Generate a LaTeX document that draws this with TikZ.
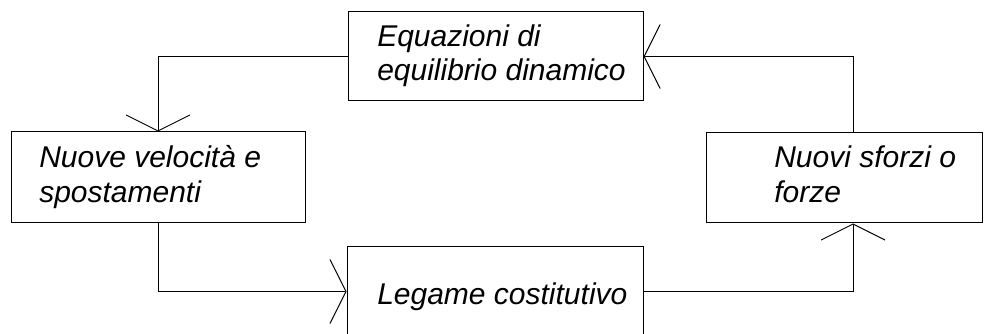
\documentclass[tikz,border=0pt]{standalone}
\usepackage{fontspec}
\setmainfont{Liberation Sans}
\usetikzlibrary{arrows.meta}
\begin{document}
\begin{tikzpicture}[x=0.75pt,y=-0.75pt,
  box/.style={draw, line width=0.75pt, rectangle, inner sep=0pt},
  lbl/.style={font=\itshape\fontsize{22.5}{27}\selectfont, anchor=base west, inner sep=0pt},
  arr/.style={line width=0.75pt, -{Straight Barb[length=12pt,width=48pt]}}]
\useasboundingbox (0,0) rectangle (988,334);
\clip (0,0) rectangle (988,334);
% boxes
\node[box, minimum width=221.25pt, minimum height=66.75pt] (eq) at (495.5,56.5) {};
\node[box, minimum width=220.5pt, minimum height=68.25pt] (nv) at (158,177.5) {};
\node[box, minimum width=207pt, minimum height=67.5pt] (ns) at (844,178) {};
\node[box, minimum width=222pt, minimum height=66.75pt] (lg) at (495,291.5) {};
% texts
\node[lbl] (eq1) at (377,47) {Equazioni di};
\node[lbl] (eq2) at (377,81) {equilibrio dinamico};
\node[lbl] (nv1) at (39,168) {Nuove velocità e};
\node[lbl] (nv2) at (39,203) {spostamenti};
\node[lbl] (ns1) at (774,168) {Nuovi sforzi o};
\node[lbl] (ns2) at (774,203) {forze};
\node[lbl] (lg1) at (377,305) {Legame costitutivo};
% connectors
\coordinate (rx) at (853,0);
\draw[arr] (eq.west) -| (nv.north);
\draw[arr] (nv.south) |- (lg.west);
\draw[arr] (lg.east) -| (ns.south -| rx);
\draw[arr] (ns.north -| rx) |- (eq.east);
\end{tikzpicture}
\end{document}
